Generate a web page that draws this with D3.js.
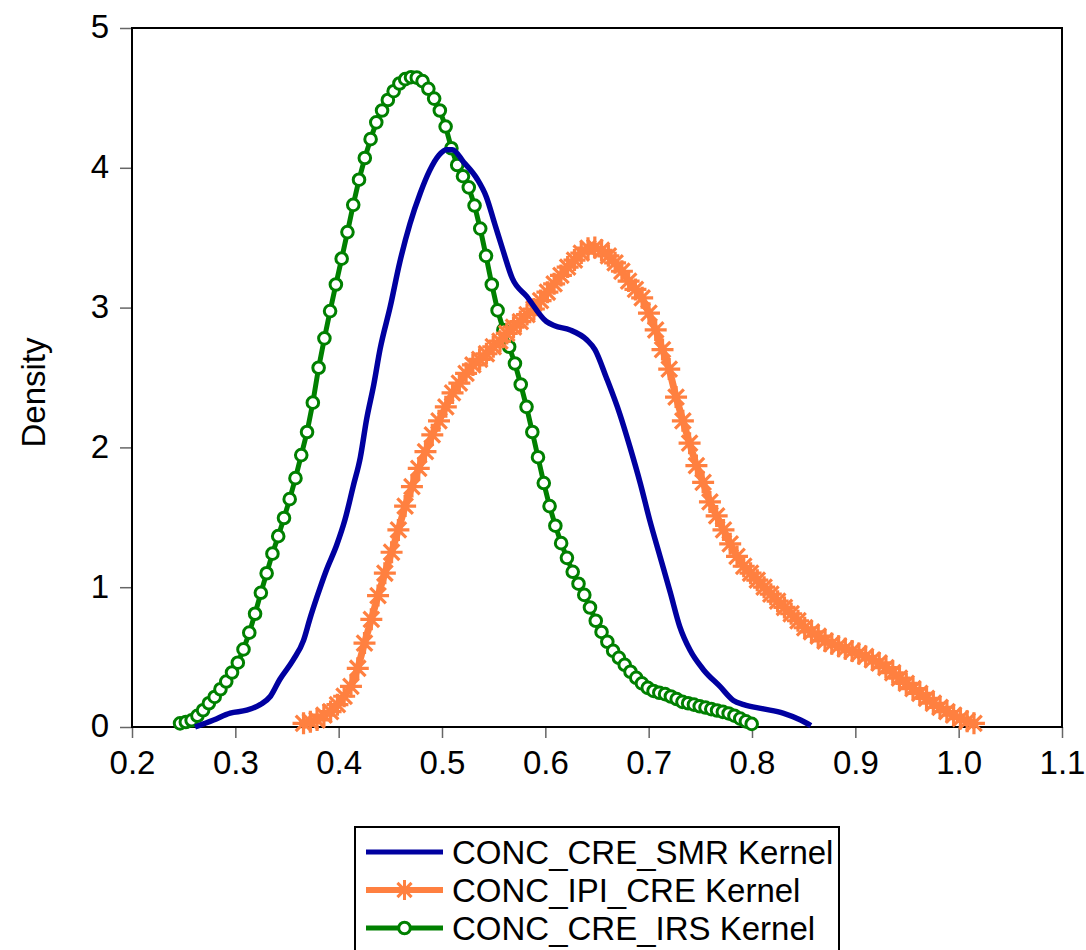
<!DOCTYPE html>
<html>
<head>
<meta charset="utf-8">
<script src="https://cdn.jsdelivr.net/npm/d3@7"></script>
<style>
  html, body { margin: 0; padding: 0; background: #fff; }
  svg { display: block; font-family: "Liberation Sans", Arial, Helvetica, sans-serif; }
</style>
</head>
<body>
<svg id="chart" width="1086" height="950"></svg>
<script>
// ---------- DATA ----------
const xTicks = [0.2, 0.3, 0.4, 0.5, 0.6, 0.7, 0.8, 0.9, 1.0, 1.1];
const xTickLabels = ["0.2", "0.3", "0.4", "0.5", "0.6", "0.7", "0.8", "0.9", "1.0", "1.1"];
const yTicks = [0, 1, 2, 3, 4, 5];
const yTickLabels = ["0", "1", "2", "3", "4", "5"];
const yLabel = "Density";
const seriesNames = ["CONC_CRE_SMR Kernel", "CONC_IPI_CRE Kernel", "CONC_CRE_IRS Kernel"];

// CONC_CRE_SMR (blue line)
const smrX = [0.261, 0.279, 0.295, 0.311, 0.324, 0.334, 0.343, 0.356, 0.366, 0.372, 0.379, 0.388, 0.398, 0.406, 0.414, 0.421, 0.427, 0.434, 0.440, 0.450, 0.459, 0.469, 0.479, 0.488, 0.497, 0.504, 0.510, 0.521, 0.534, 0.543, 0.551, 0.559, 0.568, 0.582, 0.601, 0.609, 0.624, 0.640, 0.648, 0.659, 0.672, 0.682, 0.692, 0.701, 0.711, 0.721, 0.730, 0.740, 0.753, 0.769, 0.782, 0.792, 0.811, 0.830, 0.847, 0.857];
const smrY = [0.00, 0.05, 0.10, 0.12, 0.16, 0.22, 0.34, 0.48, 0.62, 0.77, 0.93, 1.12, 1.30, 1.48, 1.72, 1.93, 2.20, 2.45, 2.70, 3.01, 3.32, 3.60, 3.82, 3.98, 4.09, 4.13, 4.13, 4.04, 3.92, 3.79, 3.60, 3.41, 3.21, 3.08, 2.90, 2.87, 2.84, 2.77, 2.70, 2.50, 2.24, 2.00, 1.74, 1.48, 1.22, 0.96, 0.72, 0.55, 0.41, 0.29, 0.19, 0.16, 0.13, 0.10, 0.05, 0.01];

// CONC_IPI_CRE (orange, star markers)
const ipiX = [0.3660, 0.3726, 0.3791, 0.3857, 0.3922, 0.3988, 0.4053, 0.4119, 0.4185, 0.4250, 0.4316, 0.4381, 0.4447, 0.4512, 0.4578, 0.4643, 0.4709, 0.4775, 0.4840, 0.4906, 0.4971, 0.5037, 0.5102, 0.5168, 0.5233, 0.5299, 0.5364, 0.5430, 0.5496, 0.5561, 0.5627, 0.5692, 0.5758, 0.5823, 0.5889, 0.5954, 0.6020, 0.6085, 0.6151, 0.6216, 0.6282, 0.6348, 0.6413, 0.6479, 0.6544, 0.6610, 0.6675, 0.6741, 0.6806, 0.6872, 0.6937, 0.7003, 0.7068, 0.7134, 0.7199, 0.7265, 0.7331, 0.7396, 0.7462, 0.7527, 0.7593, 0.7658, 0.7724, 0.7789, 0.7855, 0.7920, 0.7986, 0.8051, 0.8117, 0.8182, 0.8248, 0.8314, 0.8379, 0.8445, 0.8510, 0.8576, 0.8641, 0.8707, 0.8772, 0.8838, 0.8903, 0.8969, 0.9034, 0.9100, 0.9165, 0.9231, 0.9296, 0.9362, 0.9427, 0.9493, 0.9558, 0.9624, 0.9689, 0.9755, 0.9820, 0.9886, 0.9951, 1.0017, 1.0082, 1.0148];
const ipiY = [0.026, 0.038, 0.050, 0.085, 0.110, 0.160, 0.220, 0.290, 0.420, 0.600, 0.770, 0.940, 1.100, 1.250, 1.410, 1.580, 1.720, 1.850, 1.970, 2.090, 2.190, 2.290, 2.390, 2.460, 2.530, 2.590, 2.630, 2.670, 2.720, 2.760, 2.815, 2.860, 2.900, 2.950, 2.990, 3.050, 3.110, 3.170, 3.230, 3.290, 3.340, 3.390, 3.425, 3.430, 3.410, 3.370, 3.320, 3.260, 3.190, 3.130, 3.070, 2.960, 2.840, 2.700, 2.560, 2.360, 2.190, 2.030, 1.870, 1.750, 1.610, 1.510, 1.410, 1.310, 1.220, 1.150, 1.100, 1.050, 1.000, 0.950, 0.900, 0.855, 0.810, 0.760, 0.710, 0.680, 0.650, 0.615, 0.595, 0.578, 0.560, 0.543, 0.525, 0.505, 0.480, 0.458, 0.425, 0.388, 0.350, 0.312, 0.275, 0.240, 0.205, 0.170, 0.140, 0.110, 0.085, 0.060, 0.042, 0.026];

// CONC_CRE_IRS (green, circle markers)
const irsX = [0.2465, 0.2521, 0.2577, 0.2633, 0.2688, 0.2744, 0.2800, 0.2856, 0.2912, 0.2968, 0.3024, 0.3079, 0.3135, 0.3191, 0.3247, 0.3303, 0.3359, 0.3415, 0.3471, 0.3526, 0.3582, 0.3638, 0.3694, 0.3750, 0.3806, 0.3862, 0.3917, 0.3973, 0.4029, 0.4085, 0.4141, 0.4197, 0.4253, 0.4309, 0.4364, 0.4420, 0.4476, 0.4532, 0.4588, 0.4644, 0.4700, 0.4756, 0.4812, 0.4868, 0.4924, 0.4979, 0.5035, 0.5091, 0.5147, 0.5203, 0.5259, 0.5315, 0.5370, 0.5426, 0.5482, 0.5538, 0.5594, 0.5650, 0.5706, 0.5762, 0.5818, 0.5874, 0.5929, 0.5985, 0.6041, 0.6097, 0.6153, 0.6209, 0.6265, 0.6321, 0.6377, 0.6432, 0.6488, 0.6544, 0.6600, 0.6656, 0.6712, 0.6768, 0.6824, 0.6880, 0.6935, 0.6991, 0.7047, 0.7103, 0.7159, 0.7215, 0.7271, 0.7327, 0.7382, 0.7438, 0.7494, 0.7550, 0.7606, 0.7662, 0.7718, 0.7774, 0.7830, 0.7886, 0.7941, 0.7997];
const irsY = [0.026, 0.036, 0.048, 0.080, 0.120, 0.170, 0.215, 0.270, 0.325, 0.390, 0.460, 0.555, 0.675, 0.810, 0.960, 1.100, 1.240, 1.365, 1.495, 1.630, 1.780, 1.945, 2.110, 2.320, 2.570, 2.780, 2.975, 3.165, 3.350, 3.540, 3.735, 3.915, 4.070, 4.205, 4.325, 4.410, 4.485, 4.548, 4.603, 4.634, 4.648, 4.645, 4.620, 4.565, 4.495, 4.410, 4.295, 4.140, 4.020, 3.940, 3.860, 3.730, 3.565, 3.370, 3.165, 2.980, 2.840, 2.720, 2.600, 2.450, 2.290, 2.110, 1.930, 1.745, 1.580, 1.440, 1.315, 1.210, 1.110, 1.025, 0.945, 0.855, 0.760, 0.680, 0.610, 0.545, 0.495, 0.445, 0.395, 0.352, 0.312, 0.280, 0.258, 0.245, 0.235, 0.218, 0.200, 0.180, 0.170, 0.160, 0.148, 0.139, 0.128, 0.118, 0.108, 0.097, 0.081, 0.060, 0.040, 0.022];

// ---------- LAYOUT ----------
const plot = { left: 132, top: 28, right: 1062, bottom: 727 };
const colors = { smr: "#0000A0", ipi: "#FF8040", irs: "#008000" };
const fontSize = 33;

const svg = d3.select("#chart");
const x = d3.scaleLinear().domain([0.2, 1.1]).range([plot.left, plot.right]);
const y = d3.scaleLinear().domain([0, 5]).range([plot.bottom, plot.top]);

// axes with outward ticks
const xAxis = d3.axisBottom(x).tickValues(xTicks).tickSize(11).tickFormat((d, i) => xTickLabels[i]);
const yAxis = d3.axisLeft(y).tickValues(yTicks).tickSize(12).tickFormat((d, i) => yTickLabels[i]);

const gx = svg.append("g").attr("transform", `translate(0,${plot.bottom})`).call(xAxis);
const gy = svg.append("g").attr("transform", `translate(${plot.left},0)`).call(yAxis);
[gx, gy].forEach(g => {
  g.select(".domain").remove();
  g.selectAll(".tick line").attr("stroke", "#666").attr("stroke-width", 1.5);
  g.selectAll(".tick text").attr("fill", "#000").attr("font-size", fontSize)
    .attr("font-family", "'Liberation Sans', Arial, sans-serif");
});
gx.selectAll(".tick text").attr("dy", null).attr("y", 47);
gy.selectAll(".tick text").attr("x", -23).attr("dy", "0.3em");

// frame
svg.append("rect")
  .attr("x", plot.left).attr("y", plot.top)
  .attr("width", plot.right - plot.left).attr("height", plot.bottom - plot.top)
  .attr("fill", "none").attr("stroke", "#000").attr("stroke-width", 2);

// y label
svg.append("text")
  .attr("transform", `translate(45,${(plot.top + plot.bottom) / 2 + 15}) rotate(-90)`)
  .attr("text-anchor", "middle")
  .attr("font-size", fontSize)
  .text(yLabel);

const plotG = svg.append("g");

const line = d3.line().x(d => x(d[0])).y(d => y(d[1]));
const smoothLine = d3.line().x(d => x(d[0])).y(d => y(d[1])).curve(d3.curveMonotoneX);

const irsData = irsX.map((v, i) => [v, irsY[i]]);
const ipiData = ipiX.map((v, i) => [v, ipiY[i]]);
const smrData = smrX.map((v, i) => [v, smrY[i]]);

// star path generator (8-armed asterisk)
function starPath(cx, cy, r) {
  let p = "";
  for (let k = 0; k < 4; k++) {
    const a = k * Math.PI / 4;
    const dx = r * Math.cos(a), dy = r * Math.sin(a);
    p += `M${cx - dx},${cy - dy}L${cx + dx},${cy + dy}`;
  }
  return p;
}

// green series
plotG.append("path").datum(irsData)
  .attr("d", line).attr("fill", "none")
  .attr("stroke", colors.irs).attr("stroke-width", 5).attr("stroke-linejoin", "round");
plotG.append("g").selectAll("circle").data(irsData).join("circle")
  .attr("cx", d => x(d[0])).attr("cy", d => y(d[1])).attr("r", 5.8)
  .attr("fill", "#fff").attr("stroke", colors.irs).attr("stroke-width", 3);

// orange series
plotG.append("path").datum(ipiData)
  .attr("d", line).attr("fill", "none")
  .attr("stroke", colors.ipi).attr("stroke-width", 7).attr("stroke-linejoin", "round");
plotG.append("g").selectAll("path").data(ipiData).join("path")
  .attr("d", d => starPath(x(d[0]), y(d[1]), 11))
  .attr("stroke", colors.ipi).attr("stroke-width", 3.2).attr("fill", "none");

// blue series
plotG.append("path").datum(smrData)
  .attr("d", smoothLine).attr("fill", "none")
  .attr("stroke", colors.smr).attr("stroke-width", 5.5).attr("stroke-linejoin", "round");

// legend
const legend = svg.append("g");
legend.append("rect")
  .attr("x", 355).attr("y", 827).attr("width", 484).attr("height", 130)
  .attr("fill", "#fff").attr("stroke", "#000").attr("stroke-width", 2);
const rowsY = [852, 890, 928];
const legendColors = [colors.smr, colors.ipi, colors.irs];
rowsY.forEach((ry, i) => {
  legend.append("line")
    .attr("x1", 366).attr("x2", 443).attr("y1", ry).attr("y2", ry)
    .attr("stroke", legendColors[i]).attr("stroke-width", i === 1 ? 6 : 5);
  if (i === 1) {
    legend.append("path").attr("d", starPath(404.5, ry, 10))
      .attr("stroke", colors.ipi).attr("stroke-width", 3).attr("fill", "none");
  }
  if (i === 2) {
    legend.append("circle").attr("cx", 404.5).attr("cy", ry).attr("r", 5.8)
      .attr("fill", "#fff").attr("stroke", colors.irs).attr("stroke-width", 3);
  }
  legend.append("text")
    .attr("x", 452).attr("y", ry).attr("dy", "0.36em")
    .attr("font-size", fontSize)
    .text(seriesNames[i]);
});
</script>
</body>
</html>
